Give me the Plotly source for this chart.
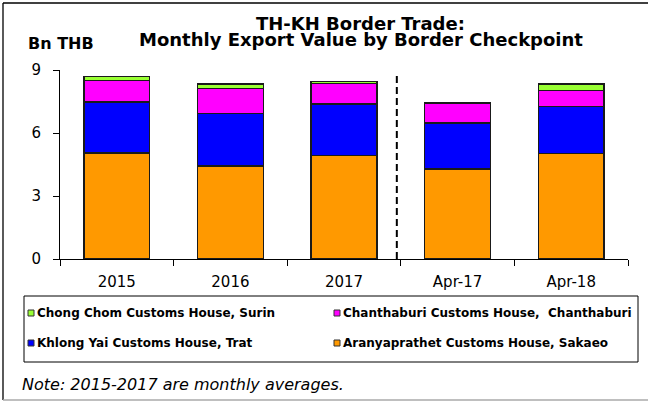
import plotly.graph_objects as go

# ---- data ----
categories = ["2015", "2016", "2017", "Apr-17", "Apr-18"]
aranyaprathet = [5.05, 4.43, 4.94, 4.28, 5.02]
khlong_yai = [2.42, 2.49, 2.44, 2.20, 2.25]
chanthaburi = [1.02, 1.20, 0.97, 0.93, 0.76]
chong_chom = [0.20, 0.21, 0.09, 0.04, 0.30]
series_names = [
    "Aranyaprathet Customs House, Sakaeo",
    "Khlong Yai Customs House, Trat",
    "Chanthaburi Customs House,  Chanthaburi",
    "Chong Chom Customs House, Surin",
]
series_colors = ["#FF9900", "#0000FF", "#FF00FF", "#99FF33"]
y_ticks = [0, 3, 6, 9]
divider_pos = 2.465   # between 2017 and Apr-17
divider_top = 8.8

# ---- layout constants (pixels) ----
W, H = 648, 403
ML, MR, MT, MB = 60, 20, 70, 144
PW, PH = W - ML - MR, H - MT - MB
PB = H - MB

def px(x):
    return (x - ML) / PW

def py(y):
    return (PB - y) / PH

FONT = "DejaVu Sans"

fig = go.Figure()
for name, vals, col in zip(series_names, [aranyaprathet, khlong_yai, chanthaburi, chong_chom], series_colors):
    fig.add_trace(go.Bar(
        x=categories, y=vals, name=name,
        marker=dict(color=col, line=dict(color="#1a1a1a", width=1.3)),
        showlegend=False,
    ))

fig.update_layout(
    width=W, height=H,
    margin=dict(l=ML, r=MR, t=MT, b=MB),
    barmode="stack", bargap=0.42,
    plot_bgcolor="white", paper_bgcolor="white",
    font=dict(family=FONT, color="black"),
    showlegend=False,
)
fig.update_xaxes(
    type="category", range=[-0.5, 4.5],
    showline=True, linecolor="black", linewidth=1,
    ticks="outside", ticklen=6, tickcolor="black", tickson="boundaries",
    tickfont=dict(size=15, family=FONT), showgrid=False,
    ticklabelstandoff=9,
)
fig.update_yaxes(
    range=[0, 9], tickvals=y_ticks,
    showline=True, linecolor="black", linewidth=1,
    ticks="outside", ticklen=6, tickcolor="black",
    tickfont=dict(size=15, family=FONT), showgrid=False, zeroline=False,
    ticklabelstandoff=9,
)

shapes = []
# dashed divider
shapes.append(dict(type="line", xref="x", yref="y", x0=divider_pos, x1=divider_pos,
                   y0=0, y1=divider_top, line=dict(color="black", width=2, dash="7px,4px")))
# outer chart border
shapes.append(dict(type="line", xref="paper", yref="paper", x0=px(3), x1=px(W + 5), y0=py(3), y1=py(3),
                   line=dict(color="black", width=1.3)))
shapes.append(dict(type="line", xref="paper", yref="paper", x0=px(3), x1=px(3), y0=py(3), y1=py(400),
                   line=dict(color="black", width=1.3)))
shapes.append(dict(type="line", xref="paper", yref="paper", x0=px(3), x1=px(W + 5), y0=py(400), y1=py(400),
                   line=dict(color="#aaaaaa", width=1.3)))
# legend box
shapes.append(dict(type="rect", xref="paper", yref="paper", x0=px(24), x1=px(638), y0=py(296), y1=py(362),
                   line=dict(color="black", width=1), fillcolor="rgba(0,0,0,0)"))

annotations = []
# titles
annotations.append(dict(text="<b>TH-KH Border Trade:</b>", xref="paper", yref="paper",
                        x=px(360), y=py(23), xanchor="center", yanchor="middle", showarrow=False,
                        font=dict(size=18, family=FONT, color="black")))
annotations.append(dict(text="<b>Monthly Export Value by Border Checkpoint</b>", xref="paper", yref="paper",
                        x=px(361), y=py(40), xanchor="center", yanchor="middle", showarrow=False,
                        font=dict(size=18, family=FONT, color="black")))
annotations.append(dict(text="<b>Bn THB</b>", xref="paper", yref="paper",
                        x=px(26), y=py(44), xanchor="left", yanchor="middle", showarrow=False,
                        font=dict(size=16, family=FONT, color="black")))
# note
annotations.append(dict(text="<i>Note: 2015-2017 are monthly averages.</i>", xref="paper", yref="paper",
                        x=px(20), y=py(384), xanchor="left", yanchor="middle", showarrow=False,
                        font=dict(size=16, family=FONT, color="black")))

# manual legend (order as in reference)
legend_order = [3, 2, 1, 0]
legend_cols = [28, 334]
legend_rows = [313, 343]
for k, idx in enumerate(legend_order):
    cx = legend_cols[k % 2]
    cy = legend_rows[k // 2]
    shapes.append(dict(type="rect", xref="paper", yref="paper",
                       x0=px(cx), x1=px(cx + 6), y0=py(cy - 3), y1=py(cy + 3),
                       fillcolor=series_colors[idx], line=dict(color="#333333", width=1)))
    annotations.append(dict(text="<b>" + series_names[idx] + "</b>", xref="paper", yref="paper",
                            x=px(cx + 7), y=py(cy), xanchor="left", yanchor="middle", showarrow=False,
                            font=dict(size=12, family=FONT, color="black")))

fig.update_layout(shapes=shapes, annotations=annotations)
fig.write_html("out.html", config={"displayModeBar": False},
               post_script="document.body.style.margin='0';")
